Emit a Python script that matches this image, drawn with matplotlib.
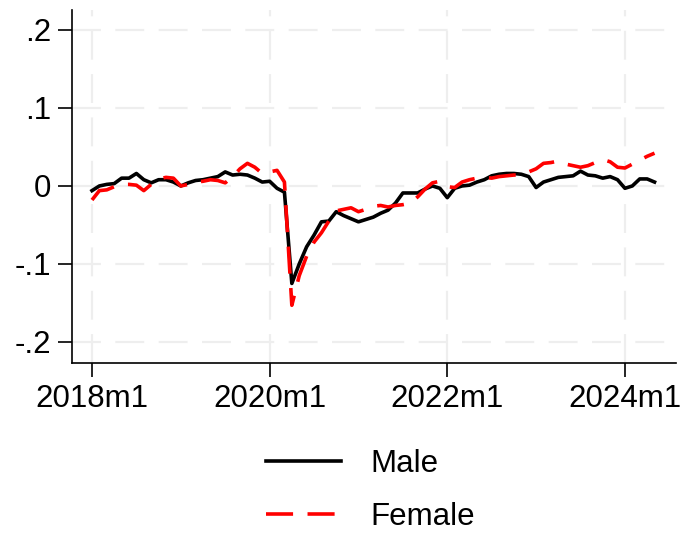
import numpy as np
import pandas as pd
import matplotlib
matplotlib.use("Agg")
import matplotlib.pyplot as plt
from matplotlib.lines import Line2D

plt.rcParams['font.family'] = ['Liberation Sans', 'DejaVu Sans']

# monthly series, 2018m1 - 2024m5
months = pd.period_range('2018-01', '2024-05', freq='M')

male = [
    -0.006, 0.000, 0.002, 0.003, 0.010, 0.010, 0.016, 0.008, 0.004, 0.008, 0.008, 0.005,   # 2018
    0.000, 0.004, 0.007, 0.008, 0.010, 0.012, 0.018, 0.014, 0.015, 0.014, 0.010, 0.005,    # 2019
    0.006, -0.003, -0.008, -0.125, -0.100, -0.078, -0.063, -0.046, -0.045, -0.033, -0.038, -0.042,  # 2020
    -0.046, -0.043, -0.040, -0.035, -0.031, -0.022, -0.009, -0.009, -0.009, -0.004, 0.000, -0.003,  # 2021
    -0.015, -0.003, 0.000, 0.001, 0.005, 0.008, 0.013, 0.015, 0.016, 0.016, 0.015, 0.012,  # 2022
    -0.002, 0.005, 0.008, 0.011, 0.012, 0.013, 0.019, 0.014, 0.013, 0.010, 0.012, 0.008,   # 2023
    -0.003, 0.000, 0.009, 0.009, 0.005,                                                      # 2024
]

female = [
    -0.018, -0.006, -0.005, -0.001, 0.002, 0.002, 0.001, -0.006, 0.002, 0.009, 0.011, 0.010,  # 2018
    0.000, 0.002, 0.005, 0.006, 0.008, 0.007, 0.004, 0.012, 0.022, 0.029, 0.024, 0.016,     # 2019
    0.018, 0.020, 0.005, -0.153, -0.115, -0.090, -0.072, -0.060, -0.045, -0.032, -0.030, -0.028,  # 2020
    -0.033, -0.030, -0.026, -0.025, -0.027, -0.025, -0.024, -0.022, -0.014, -0.004, 0.004, 0.006,  # 2021
    -0.001, -0.002, 0.005, 0.008, 0.010, 0.011, 0.010, 0.012, 0.013, 0.014, 0.014, 0.018,   # 2022
    0.022, 0.029, 0.030, 0.032, 0.028, 0.026, 0.024, 0.026, 0.030, 0.034, 0.031, 0.024,     # 2023
    0.023, 0.028, 0.033, 0.038, 0.042,                                                       # 2024
]

y_ticks = [-0.2, -0.1, 0.0, 0.1, 0.2]
y_labels = ['-.2', '-.1', '0', '.1', '.2']
x_tick_months = ['2018-01', '2020-01', '2022-01', '2024-01']

t = np.arange(len(months))
start = months[0]

fig = plt.figure(figsize=(6.92, 5.41), dpi=100)
ax = fig.add_axes([72 / 692, 1 - 363 / 541, 604 / 692, 353 / 541])

ax.plot(t, male, color='black', lw=2.6, solid_joinstyle='round', zorder=3)
ax.plot(t, female, color='#ff0000', lw=2.6, dashes=(7.5, 4), zorder=3)

xt = [(pd.Period(m, freq='M') - start).n for m in x_tick_months]
xl = [f"{pd.Period(m, freq='M').year}m{pd.Period(m, freq='M').month}" for m in x_tick_months]
ax.set_xticks(xt)
ax.set_xticklabels(xl)
ax.set_yticks(y_ticks)
ax.set_yticklabels(y_labels)
ax.set_xlim(-2.7, 78.9)
ax.set_ylim(-0.227, 0.2256)

ax.grid(True, color='#eeeeee', lw=1.6, dashes=(13, 6.5), zorder=0)
ax.set_axisbelow(True)
for s in ['top', 'right']:
    ax.spines[s].set_visible(False)
for s in ['left', 'bottom']:
    ax.spines[s].set_linewidth(1.2)
ax.tick_params(axis='both', length=10, width=1.2, labelsize=22.5, pad=5, direction='out')

handles = [Line2D([], [], color='black', lw=2.6),
           Line2D([], [], color='#ff0000', lw=2.6, dashes=(7.5, 4))]
fig.legend(handles, ['Male', 'Female'], loc='center', bbox_to_anchor=(0.535, 0.094),
           frameon=False, fontsize=22.5, handlelength=2.4, handletextpad=0.95, labelspacing=0.74)

fig.savefig('out.png', dpi=100)
